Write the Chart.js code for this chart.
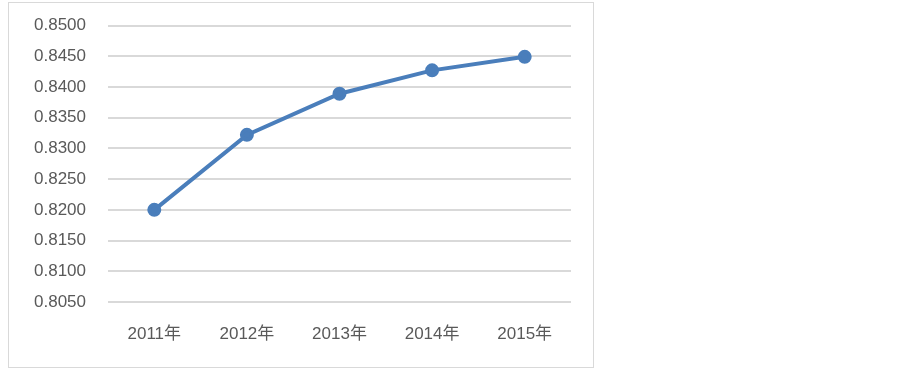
<!DOCTYPE html>
<html>
<head>
<meta charset="utf-8">
<script src="https://cdn.jsdelivr.net/npm/chart.js@4"></script>
<style>
  html, body { margin: 0; padding: 0; background: #fff; }
  .box {
    position: absolute; left: 8px; top: 2px;
    width: 584px; height: 364px;
    border: 1px solid #d9d9d9;
  }
  canvas { display: block; }
</style>
</head>
<body>
<div class="box">
  <canvas id="chart" width="584" height="364"></canvas>
</div>
<script>
const years = ['2011年', '2012年', '2013年', '2014年', '2015年']
const values = [0.8200, 0.8322, 0.8389, 0.8427, 0.8449]
const yMin = 0.805
const yMax = 0.85
const yStep = 0.005

const labelFont = { family: '"Liberation Sans", "Noto Sans CJK SC", sans-serif', size: 17 }

new Chart(document.getElementById('chart'), {
  type: 'line',
  data: {
    labels: years,
    datasets: [
      {
        data: values,
        borderColor: '#4a7ebb',
        backgroundColor: '#4a7ebb',
        borderWidth: 4,
        pointRadius: 5,
        pointHoverRadius: 5,
        tension: 0,
      }
    ]
  },
  options: {
    responsive: false,
    animation: false,
    layout: { autoPadding: false, padding: { top: 22.5, right: 22, left: 0, bottom: 0 } },
    plugins: {
      legend: { display: false },
      tooltip: { enabled: false }
    },
    scales: {
      x: {
        offset: true,
        grid: { display: false, drawTicks: false },
        border: { display: false },
        ticks: { color: '#595959', font: labelFont, padding: 22 },
        afterFit: (scale) => { scale.height = 65 }
      },
      y: {
        min: yMin,
        max: yMax,
        grid: { color: '#d9d9d9', lineWidth: 2, drawTicks: false },
        border: { display: false },
        ticks: {
          stepSize: yStep,
          color: '#595959',
          font: labelFont,
          padding: 22,
          callback: (v) => v.toFixed(4)
        },
        afterFit: (scale) => {
          scale.width = 99
          scale.paddingTop = 0
          scale.paddingBottom = 0
        }
      }
    }
  }
})
</script>
</body>
</html>
